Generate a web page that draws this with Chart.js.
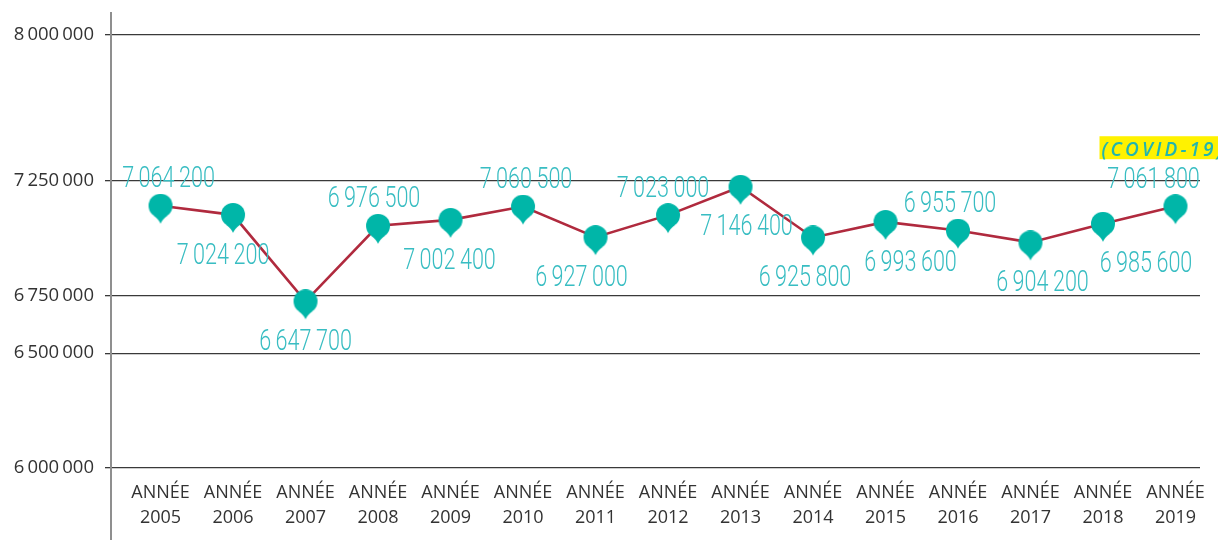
<!DOCTYPE html>
<html>
<head>
<meta charset="utf-8">
<title>Population 2005-2019</title>
<script src="https://cdn.jsdelivr.net/npm/chart.js@4.4.1/dist/chart.umd.min.js"></script>
<style>
  html, body { margin: 0; padding: 0; background: #ffffff; }
  canvas { display: block; }
</style>
</head>
<body>
<canvas id="chart" width="1218" height="540"></canvas>
<script>
// ---------------- data ----------------
const categoryPrefix = 'ANNÉE';
const years = ['2005', '2006', '2007', '2008', '2009', '2010', '2011', '2012',
               '2013', '2014', '2015', '2016', '2017', '2018', '2019'];
const population = [7064200, 7024200, 6647700, 6976500, 7002400, 7060500, 6927000, 7023000,
                    7146400, 6925800, 6993600, 6955700, 6904200, 6985600, 7061800];
const yTickValues = [6000000, 6500000, 6750000, 7250000, 8000000];
const noteText = '(COVID-19)';

// ---------------- label placement (style only) ----------------
const labelSide  = ['up', 'down', 'down', 'up', 'down', 'up', 'down', 'up',
                    'down', 'down', 'down', 'up', 'down', 'down', 'up'];
const labelShift = [8, -10, 0, -4, -1, 3, -14, -5, 6, -8, 25, -8, 12, 43, -22];

// ---------------- helpers ----------------
function fmt(v) {
  return String(Math.round(v)).replace(/\B(?=(\d{3})+(?!\d))/g, '\u2009');
}

// Axis with a compressed upper segment (above 7 250 000), as in the original graphic.
// Optional pixelShift lifts a scale so a line can join the pin heads instead of the tips.
const Y_KNOTS = [[6000000, 0], [7250000, 0.6628], [8000000, 1]];
class SegmentedScale extends Chart.LinearScale {
  getPixelForValue(value) {
    if (value === null || value === undefined || isNaN(value)) return NaN;
    const k = Y_KNOTS;
    let i = 0;
    while (i < k.length - 2 && value > k[i + 1][0]) i++;
    const v0 = k[i][0], f0 = k[i][1], v1 = k[i + 1][0], f1 = k[i + 1][1];
    const shift = this.options.pixelShift || 0;
    return this.getPixelForDecimal(f0 + (value - v0) / (v1 - v0) * (f1 - f0)) - shift;
  }
  getValueForPixel(pixel) {
    const shift = this.options.pixelShift || 0;
    const dec = this.getDecimalForPixel(pixel + shift);
    const k = Y_KNOTS;
    let i = 0;
    while (i < k.length - 2 && dec > k[i + 1][1]) i++;
    const v0 = k[i][0], f0 = k[i][1], v1 = k[i + 1][0], f1 = k[i + 1][1];
    return v0 + (dec - f0) / (f1 - f0) * (v1 - v0);
  }
}
SegmentedScale.id = 'segmented';
Chart.register(SegmentedScale);

// Pin marker: the tip marks the value (tip at image centre)
const PIN_R = 12, PIN_TIP = 18;
function makePin() {
  const c = document.createElement('canvas');
  c.width = 2 * PIN_R + 2;
  c.height = 2 * (PIN_TIP + PIN_R);
  const g = c.getContext('2d');
  const cx = c.width / 2, tipY = c.height / 2, cy = tipY - PIN_TIP;
  g.fillStyle = '#00b6a8';
  g.beginPath(); g.arc(cx, cy, PIN_R, 0, Math.PI * 2); g.fill();
  const a1 = Math.PI / 2 - 0.6, a2 = Math.PI / 2 + 0.6;
  g.beginPath();
  g.moveTo(cx + PIN_R * Math.cos(a1), cy + PIN_R * Math.sin(a1));
  g.quadraticCurveTo(cx + 1.5, cy + 14, cx, tipY);
  g.quadraticCurveTo(cx - 1.5, cy + 14, cx + PIN_R * Math.cos(a2), cy + PIN_R * Math.sin(a2));
  g.closePath(); g.fill();
  return c;
}
const pinImage = makePin();

// ---------------- plugins ----------------
const decorPlugin = {
  id: 'decor',
  beforeDatasetsDraw(chart) {
    const { ctx, chartArea } = chart;
    ctx.save();
    ctx.strokeStyle = '#8f8f8f';
    ctx.lineWidth = 2;
    ctx.beginPath();
    ctx.moveTo(chartArea.left, chartArea.top - 23);
    ctx.lineTo(chartArea.left, chart.height);
    ctx.stroke();
    ctx.restore();
  },
  afterDatasetsDraw(chart) {
    const { ctx } = chart;
    const meta = chart.getDatasetMeta(1);
    const size = 30, squeeze = 0.72, cap = 0.711 * size;
    meta.data.forEach((pt, i) => {
      const cx = pt.x + labelShift[i];
      const cy = pt.y - PIN_TIP + (labelSide[i] === 'up' ? -29 : 38);
      ctx.save();
      ctx.translate(cx, cy + cap / 2);
      ctx.scale(squeeze, 1);
      ctx.font = '300 ' + size + 'px Roboto, "Liberation Sans", sans-serif';
      ctx.fillStyle = '#38bdc2';
      ctx.textAlign = 'center';
      ctx.textBaseline = 'alphabetic';
      ctx.fillText(fmt(population[i]), 0, 0);
      ctx.restore();
    });
    // note above the last point
    const last = meta.data[meta.data.length - 1];
    const bx = last.x - 76, by = last.y - PIN_TIP - 70;
    ctx.save();
    ctx.fillStyle = '#fff200';
    ctx.fillRect(bx, by, chart.width - bx + 10, 23);
    ctx.font = 'italic 600 19px "Open Sans", sans-serif';
    ctx.fillStyle = '#22b5ae';
    ctx.textBaseline = 'alphabetic';
    ctx.textAlign = 'left';
    let x = bx + 2;
    for (const ch of noteText) {
      ctx.fillText(ch, x, by + 19.5);
      x += ctx.measureText(ch).width + 3.1;
    }
    ctx.restore();
  }
};

// ---------------- chart ----------------
const points = years.map((_, i) => ({ x: i, y: population[i] }));

new Chart(document.getElementById('chart'), {
  type: 'line',
  data: {
    datasets: [{
      // connecting line, joined at the pin heads
      data: points,
      yAxisID: 'yHead',
      borderColor: '#b02a3e',
      borderWidth: 2.6,
      pointRadius: 0,
      tension: 0,
      fill: false,
      clip: false,
      order: 2
    }, {
      // pins, tip on the value
      data: points,
      yAxisID: 'y',
      showLine: false,
      pointStyle: pinImage,
      pointRadius: 12,
      pointHoverRadius: 12,
      clip: false,
      order: 1
    }]
  },
  options: {
    responsive: false,
    animation: false,
    events: [],
    layout: { padding: { left: 0, right: 18, top: 35, bottom: 0 } },
    plugins: { legend: { display: false }, tooltip: { enabled: false } },
    scales: {
      x: {
        type: 'linear',
        min: -0.683,
        max: 14.338,
        afterBuildTicks: (s) => { s.ticks = years.map((_, i) => ({ value: i })); },
        afterFit: (s) => { s.height = 72; },
        grid: { display: false, drawTicks: false },
        border: { display: false },
        ticks: {
          autoSkip: false,
          maxRotation: 0,
          minRotation: 0,
          padding: 12,
          color: '#333333',
          font: { family: '"Open Sans", sans-serif', size: 18, lineHeight: 1.39 },
          callback: (v) => [categoryPrefix, years[v]]
        }
      },
      y: {
        type: 'segmented',
        min: 6000000,
        max: 8000000,
        afterBuildTicks: (s) => { s.ticks = yTickValues.map(v => ({ value: v })); },
        afterFit: (s) => { s.width = 111; },
        grid: { color: '#3a3a3a', lineWidth: 1.3, tickLength: 6, drawTicks: true },
        border: { display: false },
        ticks: {
          padding: 11,
          color: '#333333',
          font: { family: '"Open Sans", sans-serif', size: 18.5 },
          callback: (v) => fmt(v)
        }
      },
      yHead: {
        type: 'segmented',
        display: false,
        min: 6000000,
        max: 8000000,
        pixelShift: PIN_TIP
      }
    }
  },
  plugins: [decorPlugin]
});
</script>
</body>
</html>
